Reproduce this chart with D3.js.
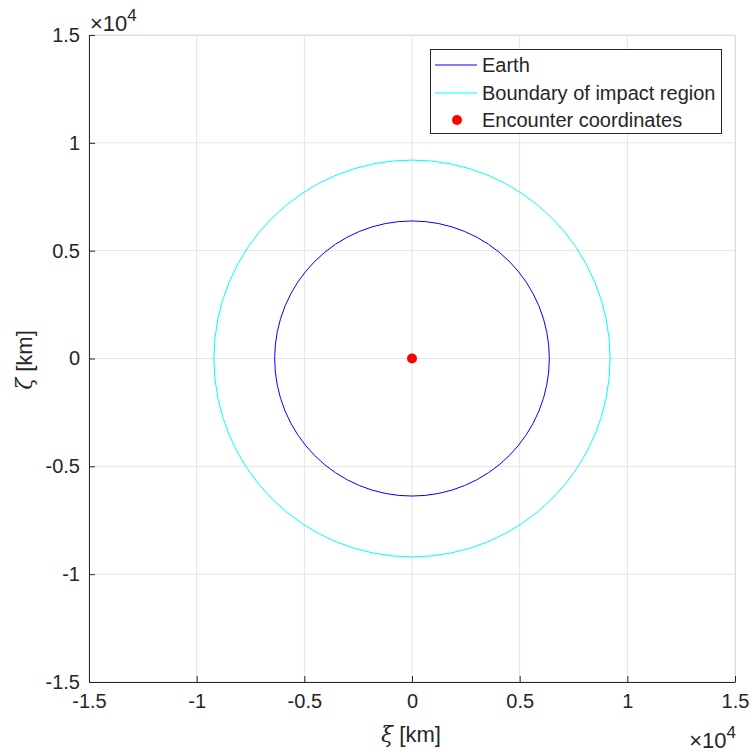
<!DOCTYPE html>
<html><head><meta charset="utf-8">
<script src="https://cdn.jsdelivr.net/npm/d3@7"></script>
<style>body{margin:0;background:#fff}svg{display:block}text{font-family:"Liberation Sans",Arial,sans-serif;fill:#262626}</style>
</head><body><div id="c"></div>
<script>
// Data
const xTicks = [-15000,-10000,-5000,0,5000,10000,15000];
const yTicks = [-15000,-10000,-5000,0,5000,10000,15000];
const tickLabels = ["-1.5","-1","-0.5","0","0.5","1","1.5"];
const circleNames = ["Earth","Boundary of impact region"];
const circleRadii = [6378, 9200];   // km
const circleColors = ["#0000ff","#00ffff"];
const encounter = [{xi:0, zeta:0}];
const legendNames = ["Earth","Boundary of impact region","Encounter coordinates"];

const W=753,H=756;
const m={l:89,r:735,t:35,b:682};
const svg=d3.select("#c").append("svg").attr("width",W).attr("height",H);
const x=d3.scaleLinear().domain([-15000,15000]).range([m.l,m.r]);
const y=d3.scaleLinear().domain([-15000,15000]).range([m.b,m.t]);

// grid
const g=svg.append("g");
xTicks.forEach(t=>g.append("line").attr("x1",x(t)).attr("x2",x(t)).attr("y1",m.t).attr("y2",m.b).attr("stroke","#e3e3e3").attr("stroke-width",1));
yTicks.forEach(t=>g.append("line").attr("y1",y(t)).attr("y2",y(t)).attr("x1",m.l).attr("x2",m.r).attr("stroke","#e3e3e3").attr("stroke-width",1));

// circles
circleRadii.forEach((r,i)=>{
  svg.append("ellipse").attr("cx",x(0)).attr("cy",y(0))
    .attr("rx",x(r)-x(0)).attr("ry",y(0)-y(r))
    .attr("fill","none").attr("stroke",circleColors[i]).attr("stroke-width",1);
});
svg.selectAll("circle.pt").data(encounter).enter().append("circle")
  .attr("cx",d=>x(d.xi)).attr("cy",d=>y(d.zeta)).attr("r",5).attr("fill","#ff0000");

// axes box
svg.append("line").attr("x1",m.l).attr("x2",m.r).attr("y1",m.t+0.5).attr("y2",m.t+0.5).attr("stroke","#dcdcdc");
svg.append("line").attr("x1",m.r+0.5).attr("x2",m.r+0.5).attr("y1",m.t).attr("y2",m.b).attr("stroke","#dcdcdc");

const xa=d3.axisBottom(x).tickValues(xTicks).tickFormat((d,i)=>tickLabels[i]).tickSizeInner(-6).tickSizeOuter(0).tickPadding(12);
const xg=svg.append("g").attr("transform",`translate(0,${m.b})`).call(xa);
const ya=d3.axisLeft(y).tickValues(yTicks).tickFormat((d,i)=>tickLabels[i]).tickSizeInner(-6).tickSizeOuter(0).tickPadding(9);
const yg=svg.append("g").attr("transform",`translate(${m.l},0)`).call(ya);
[xg,yg].forEach(a=>{
  a.select(".domain").attr("stroke","#262626");
  a.selectAll(".tick line").attr("stroke","#262626");
  a.selectAll(".tick text").attr("font-size",20).attr("fill","#262626").style("font-family","'Liberation Sans',Arial,sans-serif");
});

// exponent labels
function expo(xpos,ypos,anchor){
  const t=svg.append("text").attr("x",xpos).attr("y",ypos).attr("text-anchor",anchor).attr("font-size",22);
  t.append("tspan").text("\u00d710");
  t.append("tspan").attr("dy",-10).attr("font-size",17).text("4");
}
expo(90,31,"start");
expo(736,748,"end");

// axis labels
svg.append("text").attr("x",411).attr("y",742).attr("text-anchor","middle").attr("font-size",22)
  .html('<tspan font-family="DejaVu Serif" font-style="italic">\u03be</tspan> [km]');
svg.append("text").attr("transform","translate(32,360) rotate(-90)").attr("text-anchor","middle").attr("font-size",22)
  .html('<tspan font-family="DejaVu Serif" font-style="italic">\u03b6</tspan> [km]');

// legend
const lg=svg.append("g");
lg.append("rect").attr("x",430.5).attr("y",49.5).attr("width",291).attr("height",84).attr("fill","#fff").attr("stroke","#262626").attr("stroke-width",1);
const rowsY=[65,93,120];
legendNames.forEach((n,i)=>{
  if(i<2){
    lg.append("line").attr("x1",435).attr("x2",477).attr("y1",rowsY[i]).attr("y2",rowsY[i]).attr("stroke",circleColors[i]).attr("stroke-width",1);
  } else {
    lg.append("circle").attr("cx",457).attr("cy",rowsY[i]).attr("r",5).attr("fill","#ff0000");
  }
  lg.append("text").attr("x",482).attr("y",rowsY[i]+7).attr("font-size",20).attr("fill","#000").text(n);
});
</script></body></html>
